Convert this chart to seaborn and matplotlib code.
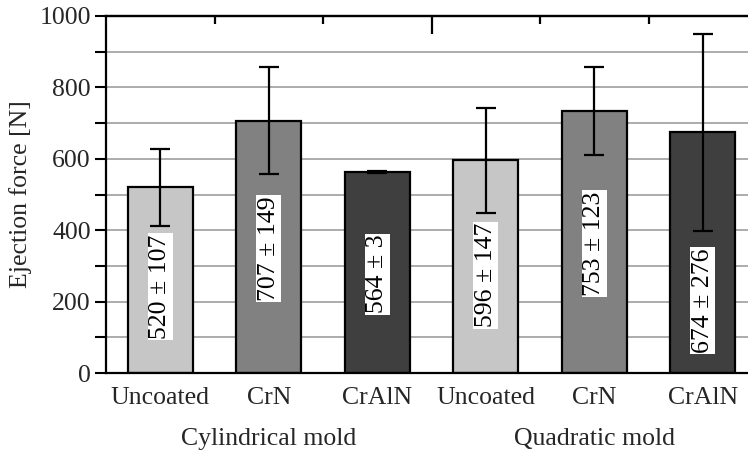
import matplotlib
matplotlib.use("Agg")
import matplotlib.pyplot as plt
from matplotlib.ticker import MultipleLocator
import seaborn as sns
import pandas as pd

# ---- data ----
keys = ["cyl_unc", "cyl_crn", "cyl_cralN", "quad_unc", "quad_crn", "quad_cralN"]
coatings = ["Uncoated", "CrN", "CrAlN", "Uncoated", "CrN", "CrAlN"]
groups = ["Cylindrical mold", "Quadratic mold"]
values = [520, 707, 564, 596, 735, 674]
errors = [107, 149, 3, 147, 123, 276]
value_labels = ["520 ± 107", "707 ± 149", "564 ± 3", "596 ± 147", "753 ± 123", "674 ± 276"]
label_y = [242, 348, 277, 274, 362, 203]
bar_colors = ["#c6c6c6", "#818181", "#3f3f3f", "#c6c6c6", "#818181", "#3f3f3f"]

df = pd.DataFrame({"key": keys, "value": values})

sns.set_theme(style="white")
plt.rcParams["font.family"] = ["Liberation Serif", "DejaVu Serif"]

FS = 18.5

fig = plt.figure(figsize=(7.48, 4.55), dpi=100)
ax = fig.add_axes([106 / 748, (455 - 373) / 455, 651 / 748, 357 / 455])

sns.barplot(data=df, x="key", y="value", hue="key", order=keys,
            palette=dict(zip(keys, bar_colors)), edgecolor="black",
            linewidth=1.6, width=0.6, legend=False, ax=ax, errorbar=None)

xs = list(range(len(keys)))
ax.errorbar(xs, values, yerr=errors, fmt="none", ecolor="black",
            elinewidth=1.6, capsize=7, capthick=1.6, zorder=5)

for x, y, t in zip(xs, label_y, value_labels):
    ax.text(x, y, t, rotation=90, ha="center", va="center", fontsize=FS,
            color="black", zorder=6,
            bbox=dict(facecolor="white", edgecolor="none", pad=1.0))

ax.set_xlim(-0.5, len(keys) - 0.5)
ax.set_ylim(0, 1000)
ax.yaxis.set_major_locator(MultipleLocator(200))
ax.yaxis.set_minor_locator(MultipleLocator(100))
ax.set_axisbelow(True)
ax.grid(True, axis="y", which="both", color="#acacac", linewidth=1.4)
ax.grid(False, axis="x")

ax.set_xticks(xs)
ax.set_xticklabels(coatings, fontsize=FS)
ax.tick_params(axis="x", which="major", bottom=False, top=False, length=0, pad=10)
ax.tick_params(axis="y", which="both", left=True, direction="out", length=8,
               width=1.5, color="black", labelsize=FS, pad=3)
ax.set_xlabel("")
ax.set_ylabel("Ejection force [N]", fontsize=FS, labelpad=5)

for s in ax.spines.values():
    s.set_color("black")
    s.set_linewidth(1.6)
    s.set_visible(True)

# inward ticks on top marking category boundaries
sec = ax.secondary_xaxis("top")
sec.set_xticks([2.5])
sec.set_xticks([0.5, 1.5, 3.5, 4.5], minor=True)
sec.tick_params(which="major", direction="in", length=13, width=1.6,
                labeltop=False, color="black")
sec.tick_params(which="minor", direction="in", length=6, width=1.6,
                labeltop=False, color="black")
sec.set_xticklabels([])
sec.spines["top"].set_linewidth(1.6)

tr = ax.get_xaxis_transform()
for gx, g in zip([1, 4], groups):
    ax.text(gx, -0.184, g, transform=tr, ha="center", va="center", fontsize=FS)

fig.savefig("out.png", dpi=100)
